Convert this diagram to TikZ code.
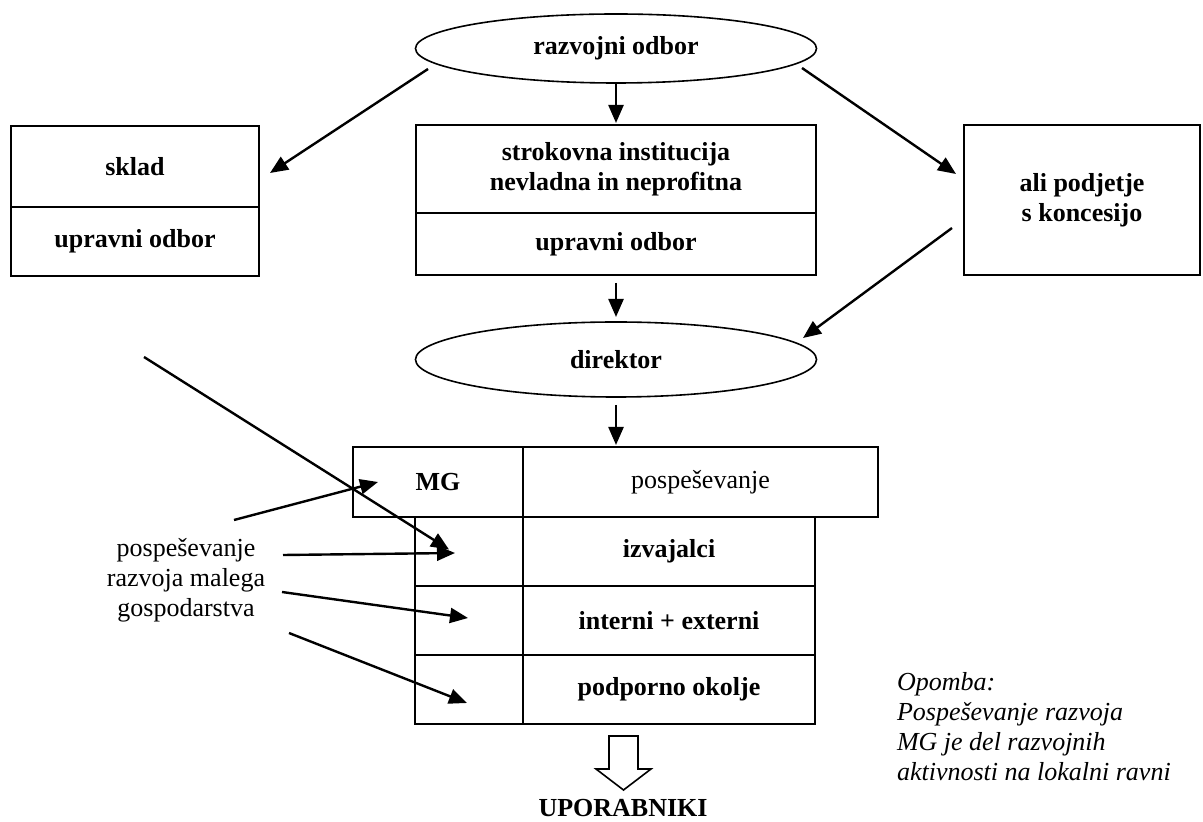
\documentclass[tikz,border=0pt]{standalone}
\usepackage{fontspec}
\setmainfont{Liberation Serif}
\usepackage{tikz}
\usetikzlibrary{arrows.meta,calc,shapes.geometric,positioning}
\newcommand{\chartfont}{\fontsize{13}{15}\selectfont}
\tikzset{
   org chart/.style={%pixel units of the scan, y pointing down
      x=.5pt, y=-.5pt,
      every node/.style={inner sep=0pt, outer sep=0pt},
      ar/.style={-{Triangle[length=9pt,width=7.5pt]}, line width=1.2pt},
      },
   cellbox/.style 2 args={draw, line width=.8pt, minimum width=#1, minimum height=#2,
      align=center, font=\chartfont\bfseries},
   oval/.style={draw, ellipse, line width=.8pt, minimum width=200.5pt,
      font=\chartfont\bfseries},
   plain text/.style={font=\chartfont, align=center}
}

\begin{document}
\begin{tikzpicture}[org chart]
  \useasboundingbox (0,0) rectangle (1203,822);
  \node[oval, minimum height=34.5pt] (razvoj) at (616,48.5) {razvojni odbor};
  \node[cellbox={124pt}{40.5pt}] (sklad) at (135,166.5) {sklad};
  \node[cellbox={124pt}{34.5pt}, below=0pt of sklad] (skladuo) {upravni odbor};
  \node[cellbox={200pt}{44pt}] (inst) at (616,169) {strokovna institucija\\nevladna in neprofitna};
  \node[cellbox={200pt}{31pt}, below=0pt of inst] (instuo) {upravni odbor};
  \node[cellbox={118pt}{75pt}] (podj) at (1082,200) {ali podjetje\\s koncesijo};
  \node[oval, minimum height=37.5pt] (direktor) at (616,359.5) {direktor};
  % table
  \node[cellbox={85pt}{35pt}] (mg) at (438,482) {MG};
  \node[cellbox={177.5pt}{35pt}, right=0pt of mg, font=\chartfont] (pospes) {pospeševanje};
  \node[cellbox={54pt}{34.5pt}] (izvL) at (469,551.5) {};
  \node[cellbox={146pt}{34.5pt}, right=0pt of izvL] (izv) {izvajalci};
  \node[cellbox={54pt}{34.5pt}, below=0pt of izvL] (intL) {};
  \node[cellbox={146pt}{34.5pt}, right=0pt of intL] (int) {interni + externi};
  \node[cellbox={54pt}{34.5pt}, below=0pt of intL] (podL) {};
  \node[cellbox={146pt}{34.5pt}, right=0pt of podL] (pod) {podporno okolje};
  \node[plain text] (mglab) at (186,580) {pospeševanje\\razvoja malega\\gospodarstva};
  \node[plain text, font=\chartfont\itshape, align=left, anchor=west] (opomba) at (897,727)
     {Opomba:\\Pospeševanje razvoja\\MG je del razvojnih\\aktivnosti na lokalni ravni};
  \node[font=\chartfont\bfseries] (upor) at (623,808) {UPORABNIKI};
  \draw[line width=.8pt] (623.5,736) ++(-14.5,0) -- ++(29,0) -- ++(0,33) -- ++(13,0)
     -- ++(-27.5,21) -- ++(-27.5,-21) -- ++(13,0) -- cycle;
  \draw[ar] ($(razvoj.center)+(-188,20.5)$) -- ($(sklad.east)+(11,6.5)$);
  \draw[ar] (razvoj.south) -- ($(inst.north)+(0,-2)$);
  \draw[ar] ($(razvoj.center)+(186,19.5)$) -- ($(podj.west)+(-8,-26)$);
  \draw[ar] ($(podj.west)+(-12,28)$) -- ($(direktor.center)+(187,-21.5)$);
  \draw[ar] ($(instuo.south)+(0,8)$) -- ($(direktor.north)+(0,-5)$);
  \draw[ar] ($(direktor.south)+(0,8)$) -- ($(direktor.south |- pospes.north)+(0,-2)$);
  \coordinate (zacetek) at (144,357);
  \draw[ar] (zacetek) -- ($(izvL.center)+(-20,-2)$);
  \draw[ar] ($(mglab.center)+(48,-60)$) -- ($(mg.west)+(25,0)$);
  \draw[ar] ($(mglab.center)+(97,-25)$) -- ($(izvL.center)+(-14,1.5)$);
  \draw[ar] ($(mglab.center)+(96,12)$) -- ($(intL.center)+(-1,-2.5)$);
  \draw[ar] ($(mglab.center)+(103,53)$) -- ($(podL.center)+(-2,13.5)$);
\end{tikzpicture}
\end{document}
